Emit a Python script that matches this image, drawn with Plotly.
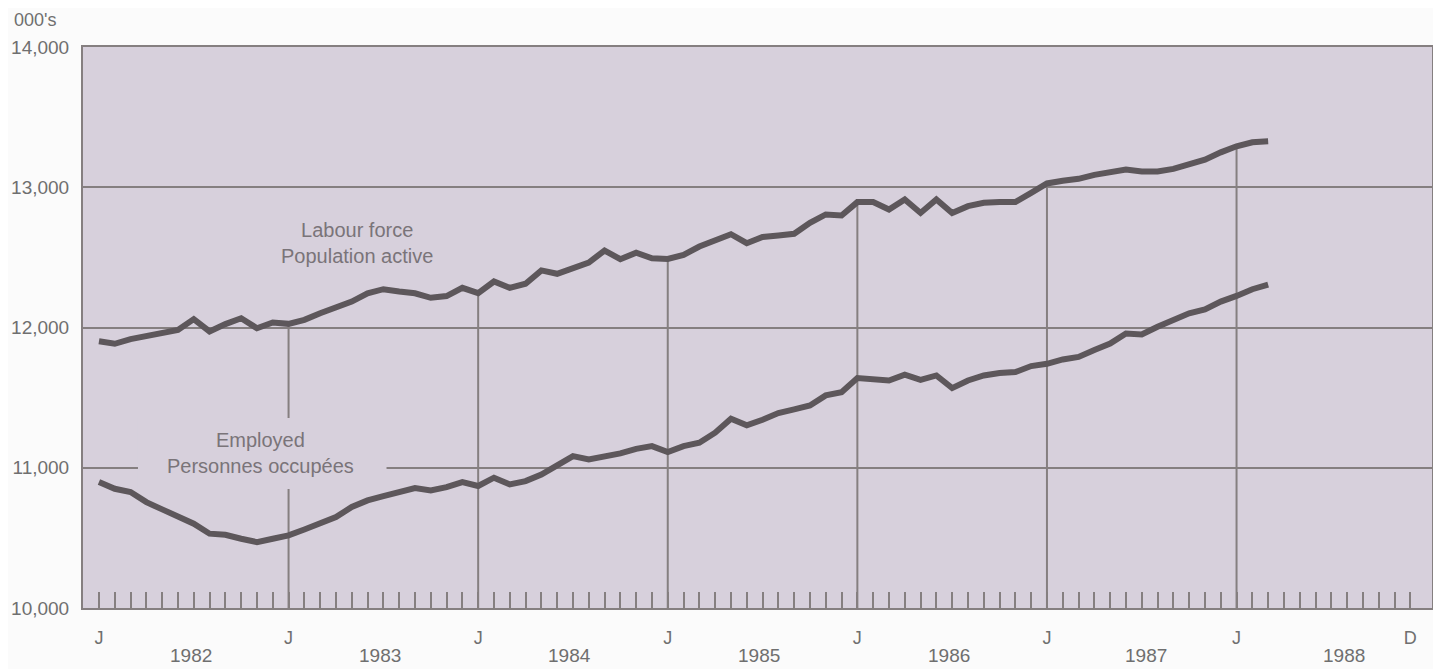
import plotly.graph_objects as go

# Monthly data, Jan 1982 .. Mar 1988 (thousands)
months = list(range(75))  # month index, 0 = Jan 1982
labour_force = [11902, 11884, 11917, 11936, 11955, 11983, 12060, 11972, 12024, 12066, 11995, 12036,
                12026, 12055, 12102, 12138, 12185, 12244, 12273, 12257, 12244, 12212, 12224, 12283,
                12245, 12328, 12283, 12312, 12407, 12383, 12423, 12463, 12549, 12487, 12534, 12494,
                12489, 12518, 12577, 12625, 12665, 12601, 12645, 12656, 12668, 12746, 12806, 12799,
                12894, 12894, 12841, 12913, 12817, 12913, 12817, 12865, 12889, 12894, 12894, 12960,
                13027, 13046, 13060, 13088, 13107, 13126, 13112, 13112, 13131, 13165, 13197, 13249,
                13292, 13321, 13328]
employed = [10898, 10850, 10827, 10755, 10703, 10648, 10601, 10530, 10522, 10494, 10470, 10494,
            10518, 10560, 10601, 10648, 10720, 10767, 10798, 10827, 10855, 10838, 10862, 10898,
            10870, 10929, 10881, 10905, 10952, 11017, 11083, 11059, 11078, 11102, 11135, 11154,
            11112, 11154, 11178, 11250, 11349, 11302, 11342, 11390, 11416, 11444, 11516, 11539,
            11639, 11627, 11622, 11663, 11627, 11658, 11568, 11622, 11658, 11675, 11682, 11725,
            11741, 11772, 11790, 11840, 11885, 11957, 11950, 12005, 12053, 12101, 12129, 12185,
            12225, 12273, 12305]

years = ["1982", "1983", "1984", "1985", "1986", "1987", "1988"]
year_label_pos = [5.8, 17.8, 29.8, 41.8, 53.8, 66.3, 78.8]
y_ticks = [10000, 11000, 12000, 13000, 14000]
all_month_ticks = list(range(84))
month_tick_text = ["J" if m % 12 == 0 else ("D" if m == 83 else "") for m in all_month_ticks]

LINE = "#5d575b"
GRID = "#857f80"
BG = "#d7d0dc"
TXT = "#6f6f6f"
LBL = "#7a7479"
FONT = "Liberation Sans, Arial, sans-serif"

fig = go.Figure()

# vertical year lines from bottom up to the labour-force curve
vx, vy = [], []
for m in months:
    if m % 12 == 0 and m > 0:
        vx += [m, m, None]
        vy += [10000, labour_force[m], None]
fig.add_trace(go.Scatter(x=vx, y=vy, mode="lines", line=dict(color=GRID, width=2),
                         hoverinfo="skip", showlegend=False))

fig.add_trace(go.Scatter(x=months, y=labour_force, mode="lines", name="Labour force",
                         line=dict(color=LINE, width=6), showlegend=False))
fig.add_trace(go.Scatter(x=months, y=employed, mode="lines", name="Employed",
                         line=dict(color=LINE, width=6), showlegend=False))

# background patch behind the "Employed" label (interrupts grid lines)
fig.add_shape(type="rect", xref="x", yref="y", x0=2.47, x1=18.2, y0=10849, y1=11355,
              fillcolor=BG, line=dict(width=0), layer="above")

fig.add_annotation(x=10.25, y=11102, xref="x", yref="y",
                   text="Employed<br>Personnes occupées", showarrow=False,
                   font=dict(family=FONT, size=20, color=LBL), align="center")
fig.add_annotation(x=16.3, y=12602, xref="x", yref="y",
                   text="Labour force<br>Population active", showarrow=False,
                   font=dict(family=FONT, size=20, color=LBL), align="center")

for yr, pos in zip(years, year_label_pos):
    fig.add_annotation(x=pos, y=-0.0855, xref="x", yref="paper", text=yr, showarrow=False,
                       font=dict(family=FONT, size=19, color=TXT), yanchor="middle")

fig.add_annotation(x=-0.0526, y=1.0695, xref="paper", yref="paper", text="000's", showarrow=False,
                   font=dict(family=FONT, size=18, color=TXT), xanchor="left", yanchor="top")

fig.update_xaxes(range=[-1.01, 84.37], tickmode="array", tickvals=all_month_ticks,
                 ticktext=month_tick_text, ticks="inside", ticklen=16, tickwidth=2,
                 tickcolor=GRID, showgrid=False, zeroline=False, showline=True,
                 linecolor=GRID, linewidth=2, mirror=True, ticklabelstandoff=12,
                 tickfont=dict(family=FONT, size=18, color=TXT), automargin=False)
fig.update_yaxes(range=[10000, 14000], tickmode="array", tickvals=y_ticks, tickformat=",d",
                 showgrid=True, gridcolor=GRID, gridwidth=2, zeroline=False, showline=True,
                 linecolor=GRID, linewidth=2, mirror=True, ticks="outside", ticklen=8,
                 tickcolor="rgba(0,0,0,0)", tickfont=dict(family=FONT, size=19, color=TXT),
                 automargin=False)

# page body adds ~8px offset; margins compensate so the plot lands where the reference has it
fig.update_layout(width=1441, height=669, margin=dict(l=75, r=17, t=39, b=69),
                  plot_bgcolor=BG, paper_bgcolor="#fbfbfb", showlegend=False)

fig.write_html("out.html")
